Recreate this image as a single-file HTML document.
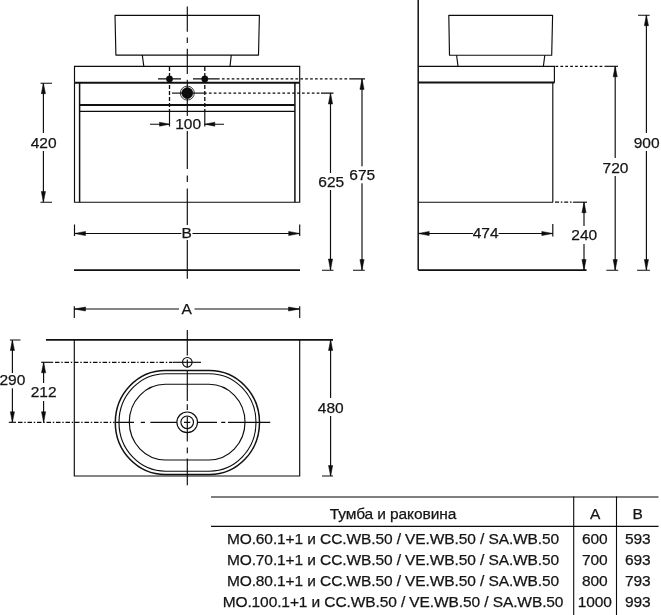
<!DOCTYPE html>
<html><head><meta charset="utf-8">
<style>
html,body{margin:0;padding:0;background:#fff;}
body{width:661px;height:615px;overflow:hidden;position:relative;font-family:"Liberation Sans",sans-serif;}
svg{position:absolute;left:0;top:0;will-change:transform;}
svg text{font-family:"Liberation Sans",sans-serif;fill:#141414;stroke:#141414;stroke-width:.25px;}
.l{stroke:#0c0c0c;stroke-width:1.15;fill:none;}
.t{stroke:#111;stroke-width:1.8;fill:none;}
.d{stroke:#0c0c0c;stroke-width:1.3;fill:none;stroke-dasharray:2.7 2.2;}
.c{stroke:#111;stroke-width:1;fill:none;stroke-dasharray:14 3 3 3;}
.a{fill:#0c0c0c;stroke:#0c0c0c;stroke-width:.5;}
.w{fill:#fff;stroke:none;}
.n{font-size:15.5px;text-anchor:middle;}
.tb{font-size:15.5px;}
</style></head><body>
<svg width="661" height="615" viewBox="0 0 661 615">
<rect width="661" height="615" fill="#fff"/>

<!-- ============ FRONT VIEW ============ -->
<g id="front">
<!-- basin -->
<path class="l" d="M115 15.3 H259.4 L258.5 55.1 H115.9 Z" stroke-linejoin="round"/>
<path class="l" d="M142.3 55 L143.8 66.3 M231.3 55 L230 66.3"/>
<!-- countertop -->
<path class="l" d="M74.5 82.5 V66.3 H299.7 V82.5"/>
<path class="t" d="M74.5 82.7 H299.7" style="stroke-width:2"/>
<!-- cabinet -->
<path class="l" d="M74.5 82.5 V202.2 H299.7 V82.5"/>
<path class="t" d="M79.6 82.5 V202.2 M294.9 82.5 V202.2" style="stroke-width:1.5"/>
<path class="t" d="M79.6 105 H294.8"/>
<path class="l" d="M79.6 111.3 H294.8"/>
<!-- floor -->
<path class="t" d="M74 270.1 H300" style="stroke-width:1.8"/>
<!-- centre line -->
<path class="l" d="M187.3 6.5 V31.7 M187.3 37.4 V43 M187.3 48.8 V74 M187.3 79.7 V169 M187.3 175.5 V182 M187.3 188.5 V278.8"/>
<!-- holes -->
<path class="l" d="M158 78.9 H181 M193 78.9 H217"/>
<path class="d" d="M217 78.9 H352"/>
<circle class="a" cx="169.5" cy="78.9" r="3.2"/>
<circle class="a" cx="204.8" cy="78.9" r="3.2"/>
<path class="d" d="M169.5 67 V111 M204.8 67 V111" style="stroke-dasharray:4 2"/><path class="l" d="M169.5 111 V126.5 M204.8 111 V126.5"/>
<path class="l" d="M172 93.1 H204"/>
<path class="d" d="M204 93.1 H321"/>
<circle class="a" cx="187.3" cy="93.1" r="5.6"/>
<circle class="l" cx="187.3" cy="93.1" r="7" style="stroke-width:.8"/>
<!-- 100 dim -->
<rect class="w" x="174" y="116" width="27" height="15"/>
<path class="l" d="M150 124.2 H169.5 M204.8 124.2 H224"/>
<path class="a" d="M169.5 124.2 L159.5 122.2 V126.2 Z M204.8 124.2 L214.8 122.2 V126.2 Z"/>
<text class="n" x="188.2" y="128.8">100</text>
<!-- 420 dim -->
<path class="l" d="M40.5 83.2 H52 M40.5 202.2 H52 M43.4 83.2 V202.2"/>
<path class="a" d="M43.4 83.2 L41.3 93.7 H45.5 Z M43.4 202.2 L41.3 191.5 H45.5 Z"/>
<rect class="w" x="28" y="133" width="32" height="18"/>
<text class="n" x="43.6" y="147.5">420</text>
<!-- B dim -->
<path class="l" d="M74.5 224.5 V236 M299.7 224.5 V236 M74.5 233.5 H299.7"/>
<path class="a" d="M74.5 233.5 L85.5 231.4 V235.6 Z M299.7 233.5 L288.7 231.4 V235.6 Z"/>
<rect class="w" x="181.3" y="225" width="11.2" height="15"/>
<text class="n" x="186.6" y="238.4">B</text>
<!-- 625 dim -->
<path class="l" d="M322 270.2 H333.5 M321 93.1 H333.5 M330.5 93.1 V270"/>
<path class="a" d="M330.5 93.1 L328.4 104 H332.6 Z M330.5 270 L328.4 259 H332.6 Z"/>
<rect class="w" x="317" y="173" width="29" height="17"/>
<text class="n" x="331.3" y="186.8">625</text>
<!-- 675 dim -->
<path class="l" d="M353 270.2 H364.8 M352 78.9 H365 M362 78.9 V270"/>
<path class="a" d="M362 78.9 L359.9 89.4 H364.1 Z M362 270 L359.9 259.5 H364.1 Z"/>
<rect class="w" x="348" y="166.3" width="29" height="17"/>
<text class="n" x="362.3" y="180">675</text>
</g>

<!-- ============ SIDE VIEW ============ -->
<g id="side">
<path class="t" d="M418.2 0 V270" style="stroke-width:1.5"/>
<path class="l" d="M448.8 15.3 H552.6 L551.7 55.2 H449.5 Z" stroke-linejoin="round"/>
<path class="l" d="M456.6 55.2 L458 66.3 M544.8 55.2 L543.4 66.3"/>
<path class="l" d="M418.2 66.3 H554.4 V82.8"/>
<path class="t" d="M418.2 82.6 H554.4" style="stroke-width:2"/>
<path class="l" d="M552.8 82.8 V202.2"/>
<path class="l" d="M418.2 202.2 H553"/>
<path class="d" d="M555 202.2 H573" style="stroke-dasharray:4 1.8 1.6 1.8"/><path class="l" d="M573 202.2 H587"/>
<path class="t" d="M418.2 270.1 H586.6" style="stroke-width:1.8"/>
<path class="d" d="M555.5 66.3 H605"/><path class="l" d="M605 66.3 H618"/>
<!-- 474 -->
<path class="l" d="M418.2 233.5 H552.8 M552.8 224 V236.5"/>
<path class="a" d="M418.2 233.5 L429.2 231.4 V235.6 Z M552.8 233.5 L541.8 231.4 V235.6 Z"/>
<rect class="w" x="473" y="225" width="25.6" height="15"/>
<text class="n" x="485.6" y="238.4">474</text>
<!-- 240 -->
<path class="l" d="M584 202.2 V270"/>
<path class="a" d="M584 202.2 L581.9 212.7 H586.1 Z M584 270 L581.9 259.5 H586.1 Z"/>
<rect class="w" x="570" y="226" width="29" height="18"/>
<text class="n" x="584.3" y="240.2">240</text>
<!-- 720 -->
<path class="l" d="M606.4 270.2 H618.2 M615.2 66.3 V270"/>
<path class="a" d="M615.2 66.3 L613.1 76.8 H617.3 Z M615.2 270 L613.1 259.5 H617.3 Z"/>
<rect class="w" x="601" y="158" width="29" height="18"/>
<text class="n" x="615.5" y="172.8">720</text>
<!-- 900 -->
<path class="l" d="M638 15.2 H649.7 M637.1 270.2 H649.9 M646.4 15.2 V270"/>
<path class="a" d="M646.4 15.2 L644.3 25.7 H648.5 Z M646.4 270 L644.3 259.5 H648.5 Z"/>
<rect class="w" x="632" y="133" width="29" height="18"/>
<text class="n" x="646.6" y="148">900</text>
</g>

<!-- ============ PLAN VIEW ============ -->
<g id="plan">
<!-- A dim -->
<path class="l" d="M74.3 306.3 V318 M299.7 306.3 V318 M74.3 309 H299.7"/>
<path class="a" d="M74.3 309 L85.5 307 V311 Z M299.7 309 L288.5 307 V311 Z"/>
<rect class="w" x="179" y="301" width="15.5" height="15"/>
<text class="n" x="186.7" y="314.4">A</text>
<!-- wall + counter -->
<path class="t" d="M46 339.9 H333" style="stroke-width:1.8"/>
<path class="l" d="M74.3 340 V476 H299.7 V340"/>
<!-- centre lines -->
<path class="l" d="M187.3 330 V355.5 M187.3 359.5 V367.5 M187.3 371 V401 M187.3 404.3 V410.1 M187.3 416.5 V441.5 M187.3 447.5 V453.3 M187.3 458.5 V485.2"/>
<path class="l" d="M116 422.3 H134 M140.8 422.3 H145 M150.4 422.3 H176.9 M184 422.3 H190.3 M197.5 422.3 H217 M221.2 422.3 H225.3 M228 422.3 H270.2"/>
<path class="l" d="M8.8 422.3 H16"/><path class="d" d="M18 422.3 H114.5" style="stroke-dasharray:4.5 1.8 1.4 1.8"/>
<path class="l" d="M41.2 362.3 H53.2"/><path class="d" d="M55 362.3 H172" style="stroke-dasharray:4.5 1.8 1.4 1.8"/>
<path class="l" d="M172.5 362.3 H201"/>
<circle class="l" cx="187.3" cy="362.3" r="4.8"/>
<!-- basin -->
<rect class="t" x="115.3" y="370.4" width="144.2" height="104.2" rx="50" ry="52.1" style="stroke-width:1.5"/>
<rect class="l" x="119" y="373.7" width="137" height="97.5" rx="46.5" ry="48.7"/>
<rect class="l" x="129.3" y="384.2" width="115.7" height="75.8" rx="36" ry="37.9"/>
<circle class="l" cx="187.2" cy="422.3" r="10.3"/>
<circle class="l" cx="187.2" cy="422.3" r="6.3"/>
<!-- 290 -->
<path class="l" d="M9.8 340 H20.5 M12.4 340 V422.3"/>
<path class="a" d="M12.4 340 L10.3 350.5 H14.5 Z M12.4 422.3 L10.3 411.8 H14.5 Z"/>
<rect class="w" x="0" y="373" width="27" height="15.3"/>
<text class="n" x="12.4" y="384.9">290</text>
<!-- 212 -->
<path class="l" d="M43.6 362.3 V422.3"/>
<path class="a" d="M43.6 362.3 L41.5 372.8 H45.7 Z M43.6 422.3 L41.5 411.8 H45.7 Z"/>
<rect class="w" x="30" y="383" width="28" height="18"/>
<text class="n" x="43.6" y="397.3">212</text>
<!-- 480 -->
<path class="l" d="M322 476 H333 M330.6 340 V476"/>
<path class="a" d="M330.6 340 L328.5 350.5 H332.7 Z M330.6 476 L328.5 465.5 H332.7 Z"/>
<rect class="w" x="316" y="398" width="29" height="18"/>
<text class="n" x="330.8" y="412.5">480</text>
</g>

<!-- ============ TABLE ============ -->
<g id="table">
<path d="M211 497 H658.5" stroke="#555" stroke-width="1.5" fill="none"/>
<path class="l" d="M211 526.3 H658.5" style="stroke-width:1.2"/>
<path class="l" d="M573.7 496.5 V615 M616.5 496.5 V615" style="stroke-width:1.1"/>
<g class="tb" text-anchor="middle" letter-spacing="-0.1">
<text x="393" y="518.9" font-size="15.5">Тумба и раковина</text>
<text x="595" y="518.9" font-size="15.5">A</text>
<text x="637.5" y="518.9" font-size="15.5">B</text>
<text x="393" y="543.9" font-size="15.5">MO.60.1+1 и CC.WB.50 / VE.WB.50 / SA.WB.50</text>
<text x="393" y="565.2" font-size="15.5">MO.70.1+1 и CC.WB.50 / VE.WB.50 / SA.WB.50</text>
<text x="393" y="586.3" font-size="15.5">MO.80.1+1 и CC.WB.50 / VE.WB.50 / SA.WB.50</text>
<text x="393" y="607.4" font-size="15.5">MO.100.1+1 и CC.WB.50 / VE.WB.50 / SA.WB.50</text>
<text x="594.8" y="543.9" font-size="15.5">600</text>
<text x="594.8" y="565.2" font-size="15.5">700</text>
<text x="594.8" y="586.3" font-size="15.5">800</text>
<text x="594.8" y="607.4" font-size="15.5">1000</text>
<text x="637.7" y="543.9" font-size="15.5">593</text>
<text x="637.7" y="565.2" font-size="15.5">693</text>
<text x="637.7" y="586.3" font-size="15.5">793</text>
<text x="637.7" y="607.4" font-size="15.5">993</text>
</g>
</g>
</svg>
</body></html>
